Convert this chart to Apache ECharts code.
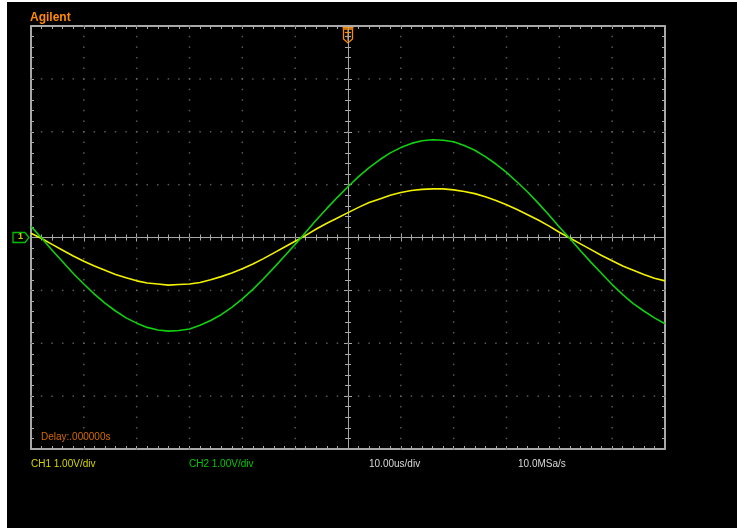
<!DOCTYPE html>
<html>
<head>
<meta charset="utf-8">
<script src="https://cdn.jsdelivr.net/npm/echarts@6/dist/echarts.min.js"></script>
<style>
  html, body { margin: 0; padding: 0; background: #000; }
  #scope { width: 737px; height: 529px; }
</style>
</head>
<body>
<div id="scope"></div>
<script>
// Sample times (µs) — 10 µs/div, 12 divisions across the screen
const timeUs = [-60,-58,-56,-54,-52,-50,-48,-46,-44,-42,-40,-38,-36,-34,-32,-30,-28,-26,-24,-22,-20,-18,-16,-14,-12,-10,-8,-6,-4,-2,0,2,4,6,8,10,12,14,16,18,20,22,24,26,28,30,32,34,36,38,40,42,44,46,48,50,52,54,56,58,60];

// Channel 1 (yellow), volts
const ch1Volts = [0.08,-0.02,-0.13,-0.24,-0.35,-0.45,-0.54,-0.62,-0.70,-0.76,
  -0.82,-0.86,-0.88,-0.90,-0.89,-0.88,-0.85,-0.80,-0.74,-0.67,
  -0.59,-0.50,-0.40,-0.29,-0.18,-0.07,0.04,0.16,0.27,0.37,
  0.47,
  0.57,0.66,0.73,0.80,0.85,0.89,0.91,0.92,0.92,0.90,
  0.87,0.83,0.77,0.70,0.62,0.53,0.43,0.33,0.22,0.10,
  -0.01,-0.12,-0.23,-0.34,-0.44,-0.54,-0.62,-0.70,-0.77,-0.82];

// Channel 2 (green), volts
const ch2Volts = [0.21,-0.01,-0.24,-0.46,-0.68,-0.88,-1.07,-1.24,-1.39,-1.52,
  -1.62,-1.70,-1.75,-1.77,-1.76,-1.73,-1.66,-1.57,-1.46,-1.32,
  -1.16,-0.98,-0.78,-0.57,-0.35,-0.13,0.10,0.33,0.55,0.76,
  0.96,
  1.15,1.32,1.47,1.60,1.70,1.78,1.83,1.85,1.84,1.81,
  1.74,1.65,1.53,1.39,1.23,1.05,0.86,0.65,0.43,0.20,
  -0.02,-0.25,-0.47,-0.68,-0.89,-1.08,-1.25,-1.39,-1.52,-1.63];

// Screen range and graticule divisions
const timeRange = [-60, 60];
const timePerDiv = 10;
const voltRange = [-4, 4];
const voltPerDiv = 1;
const minorPerDiv = 5;

// Status line texts
const brandText = 'Agilent';
const delayText = 'Delay:.000000s';
const ch1Text = 'CH1 1.00V/div';
const ch2Text = 'CH2 1.00V/div';
const timebaseText = '10.00us/div';
const sampleText = '10.0MSa/s';

const GRID = '#a8a8a8';
const DOT = '#6e6e6e';
const YELLOW = '#f2f200';
const GREEN = '#10d010';
const ORANGE = '#ff8a00';
const FONT = '"Liberation Sans", Arial, sans-serif';

// Dotted graticule: points along every major division line
const dots = [];
for (let t = timeRange[0] + timePerDiv; t < timeRange[1]; t += timePerDiv) {
  if (t === 0) continue;
  for (let v = voltRange[0]; v <= voltRange[1] + 1e-9; v += voltPerDiv / minorPerDiv) {
    dots.push([t, +v.toFixed(2)]);
  }
}
for (let v = voltRange[0] + voltPerDiv; v < voltRange[1]; v += voltPerDiv) {
  if (v === 0) continue;
  for (let t = timeRange[0]; t <= timeRange[1] + 1e-9; t += timePerDiv / minorPerDiv) {
    dots.push([+t.toFixed(2), v]);
  }
}

function axisBase(extra) {
  return Object.assign({
    type: 'value',
    axisLabel: { show: false },
    splitLine: { show: false },
    axisLine: { show: true, onZero: false, lineStyle: { color: GRID, width: 2 } },
    axisTick: { show: true, inside: true, length: 3, lineStyle: { color: GRID, width: 1 } },
    minorTick: { show: true, splitNumber: minorPerDiv, length: 3, lineStyle: { color: GRID, width: 1 } }
  }, extra);
}
function centerAxis(extra, inside) {
  return axisBase(Object.assign({
    axisLine: { show: true, onZero: true, onZeroAxisIndex: 0, lineStyle: { color: GRID, width: 1 } },
    axisTick: { show: true, inside: inside, length: 4, lineStyle: { color: GRID, width: 1 } },
    minorTick: { show: true, splitNumber: minorPerDiv, length: 3, lineStyle: { color: GRID, width: 1 } }
  }, extra));
}

const xCommon = { min: timeRange[0], max: timeRange[1], interval: timePerDiv };
const yCommon = { min: voltRange[0], max: voltRange[1], interval: voltPerDiv };

const chart = echarts.init(document.getElementById('scope'), null, { renderer: 'canvas' });

chart.setOption({
  backgroundColor: '#000',
  animation: false,
  grid: { left: 31, top: 26, width: 634, height: 423 },
  xAxis: [
    axisBase(Object.assign({ position: 'bottom' }, xCommon)),
    axisBase(Object.assign({ position: 'top' }, xCommon)),
    centerAxis(Object.assign({ position: 'bottom' }, xCommon), true),
    centerAxis(Object.assign({ position: 'bottom' }, xCommon), false)
  ],
  yAxis: [
    axisBase(Object.assign({ position: 'left' }, yCommon)),
    axisBase(Object.assign({ position: 'right' }, yCommon)),
    centerAxis(Object.assign({ position: 'left' }, yCommon), true),
    centerAxis(Object.assign({ position: 'left' }, yCommon), false)
  ],
  series: [
    {
      type: 'scatter', silent: true, symbol: 'rect', symbolSize: 1.5,
      itemStyle: { color: DOT }, data: dots, z: 1
    },
    {
      name: 'CH1', type: 'line', showSymbol: false, silent: true, z: 3,
      lineStyle: { color: YELLOW, width: 1.6 },
      data: timeUs.map((t, i) => [t, ch1Volts[i]])
    },
    {
      name: 'CH2', type: 'line', showSymbol: false, silent: true, z: 4,
      lineStyle: { color: GREEN, width: 1.6 },
      data: timeUs.map((t, i) => [t, ch2Volts[i]])
    }
  ]
});

// Markers anchored to the graticule
const trig = chart.convertToPixel({ xAxisIndex: 0, yAxisIndex: 0 }, [0, voltRange[1]]);
const gnd = chart.convertToPixel({ xAxisIndex: 0, yAxisIndex: 0 }, [timeRange[0], 0]);
const frameTopLeft = chart.convertToPixel({ xAxisIndex: 0, yAxisIndex: 0 }, [timeRange[0], voltRange[1]]);
const frameBottomLeft = chart.convertToPixel({ xAxisIndex: 0, yAxisIndex: 0 }, [timeRange[0], voltRange[0]]);
const centerBottom = chart.convertToPixel({ xAxisIndex: 0, yAxisIndex: 0 }, [0, voltRange[0]]);

const tx = trig[0], ty = trig[1];
const gx = gnd[0], gy = gnd[1];

chart.setOption({
  graphic: [
    // edge strips of the capture
    { type: 'rect', shape: { x: 0, y: 0, width: 7, height: 529 }, style: { fill: '#fff' }, silent: true },
    { type: 'rect', shape: { x: 0, y: 0, width: 737, height: 2 }, style: { fill: '#fff' }, silent: true },
    { type: 'rect', shape: { x: 0, y: 528, width: 737, height: 1 }, style: { fill: '#fff' }, silent: true },
    // brand
    { type: 'text', x: frameTopLeft[0] - 1, y: frameTopLeft[1] - 14,
      style: { text: brandText, fill: ORANGE, font: 'bold 12px ' + FONT } },
    // delay readout
    { type: 'text', x: frameBottomLeft[0] + 10, y: frameBottomLeft[1] - 17,
      style: { text: delayText, fill: '#d46a00', font: '10px ' + FONT } },
    // status line
    { type: 'text', x: frameBottomLeft[0], y: frameBottomLeft[1] + 10,
      style: { text: ch1Text, fill: '#d4d400', font: '10px ' + FONT } },
    { type: 'text', x: frameBottomLeft[0] + 158, y: frameBottomLeft[1] + 10,
      style: { text: ch2Text, fill: '#00c800', font: '10px ' + FONT } },
    { type: 'text', x: centerBottom[0] + 21, y: centerBottom[1] + 10,
      style: { text: timebaseText, fill: '#d8d8d8', font: '10px ' + FONT } },
    { type: 'text', x: centerBottom[0] + 170, y: centerBottom[1] + 10,
      style: { text: sampleText, fill: '#d8d8d8', font: '10px ' + FONT } },
    // trigger position marker
    { type: 'group', x: tx, y: ty, z: 10, children: [
      { type: 'line', shape: { x1: -5.5, y1: 1.5, x2: 5.5, y2: 1.5 }, style: { stroke: ORANGE, lineWidth: 1.5 } },
      { type: 'polygon', shape: { points: [[-4.5, 3], [4.5, 3], [4.5, 13], [0, 17], [-4.5, 13]] },
        style: { fill: 'none', stroke: ORANGE, lineWidth: 1.3 } },
      { type: 'line', shape: { x1: 0, y1: 3, x2: 0, y2: 15 }, style: { stroke: ORANGE, lineWidth: 1.2 } },
      { type: 'line', shape: { x1: -3, y1: 6.5, x2: 3, y2: 6.5 }, style: { stroke: ORANGE, lineWidth: 1.2 } },
      { type: 'line', shape: { x1: -3, y1: 10.5, x2: 3, y2: 10.5 }, style: { stroke: ORANGE, lineWidth: 1.2 } }
    ] },
    // channel ground marker
    { type: 'group', x: gx, y: gy, z: 10, children: [
      { type: 'polygon', shape: { points: [[-18, -5], [-6, -5], [-2, 0], [-6, 5], [-18, 5]] },
        style: { fill: 'none', stroke: '#00c000', lineWidth: 1.3 } },
      { type: 'text', x: -13, y: -5, style: { text: '1', fill: '#c8d000', font: 'bold 9px ' + FONT } }
    ] }
  ]
});
</script>
</body>
</html>
